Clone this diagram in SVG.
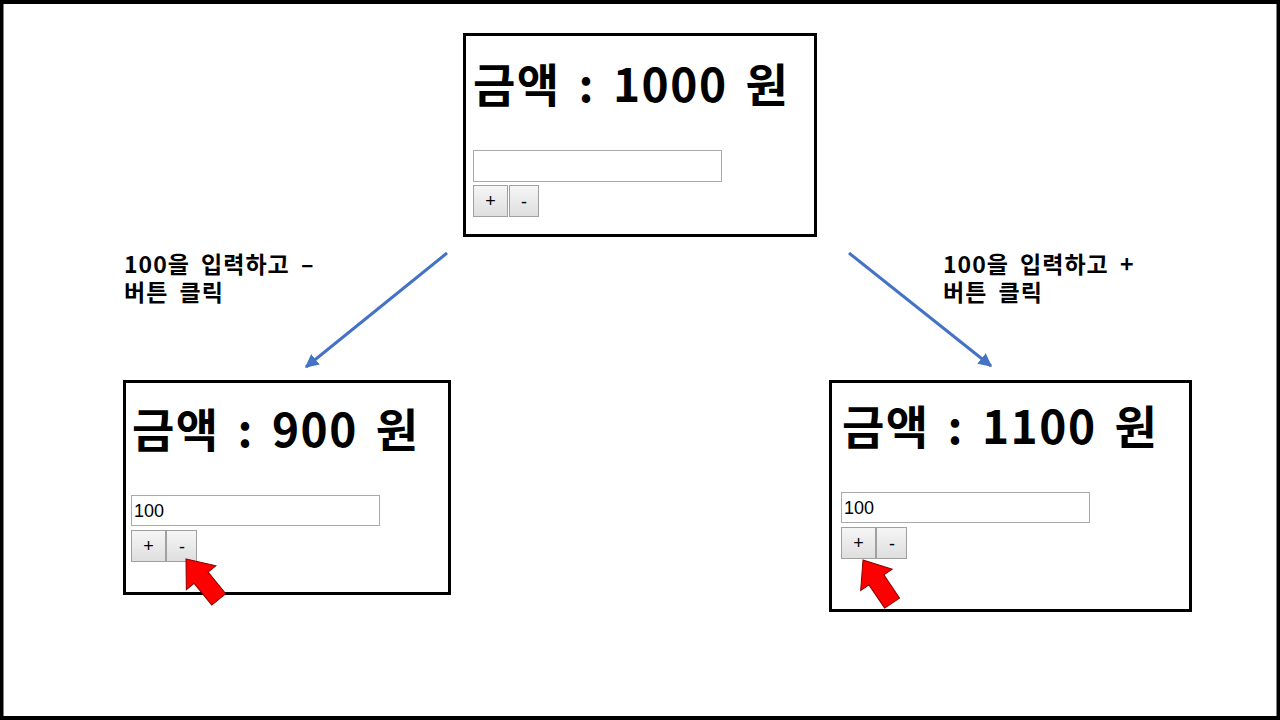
<svg xmlns="http://www.w3.org/2000/svg" width="1280" height="720" viewBox="0 0 1280 720">
<style>
.frame{fill:none;stroke:#000;stroke-width:3}
.title{font-family:"Noto Sans CJK KR","Noto Sans",sans-serif;font-weight:700;font-size:46px;fill:#000;letter-spacing:1.5px;word-spacing:6px}
.label{font-family:"Noto Sans CJK KR","Noto Sans",sans-serif;font-weight:700;font-size:23px;fill:#000;letter-spacing:1px;word-spacing:5px}
.input{fill:#fff;stroke:#a9a9a9;stroke-width:1}
.itext{font-family:"Liberation Sans",Arial,sans-serif;font-size:18px;fill:#000}
.btn{fill:url(#bg);stroke:#a0a0a0;stroke-width:1}
.btext{font-family:"Liberation Sans",Arial,sans-serif;font-size:18px;fill:#000;text-anchor:middle}
.conn{stroke:#4472C4;stroke-width:3;fill:none}
.cursor{fill:#FF0000;stroke:#8B0000;stroke-width:1;stroke-linejoin:miter}
</style>
<defs>
<linearGradient id="bg" x1="0" y1="0" x2="0" y2="1">
<stop offset="0" stop-color="#f6f6f6"/>
<stop offset="1" stop-color="#dedede"/>
</linearGradient>
<marker id="ah" viewBox="0 0 10 10" refX="9" refY="5" markerWidth="4.5" markerHeight="4.5" orient="auto" markerUnits="strokeWidth">
<path d="M0,0 L10,5 L0,10 z" fill="#4472C4"/>
</marker>
<path id="cur" d="M0,0 L19,24 L9,24 L9,52 L-9,52 L-9,24 L-19,24 z"/>
</defs>
<rect x="0" y="0" width="1280" height="720" fill="#fff"/>
<rect x="1.5" y="2" width="1277" height="716" fill="none" stroke="#000" stroke-width="4"/>

<g id="node-top">
<rect class="frame" x="464.5" y="34.5" width="351" height="201" fill="#fff"/>
<text class="title" x="473" y="102">금액 : 1000 원</text>
<rect class="input" x="473.5" y="150.5" width="248" height="31"/>
<rect class="btn" x="473.5" y="185.5" width="34" height="31"/>
<text class="btext" x="490.5" y="207">+</text>
<rect class="btn" x="509.5" y="185.5" width="29" height="31"/>
<text class="btext" x="524" y="208">-</text>
</g>

<g id="node-left">
<rect class="frame" x="124.5" y="381.5" width="325" height="212" fill="#fff"/>
<text class="title" x="132" y="447">금액 : 900 원</text>
<rect class="input" x="131.5" y="495.5" width="248" height="30"/>
<text class="itext" x="134" y="517">100</text>
<rect class="btn" x="131.5" y="530.5" width="34" height="31"/>
<text class="btext" x="148.5" y="552">+</text>
<rect class="btn" x="166.5" y="530.5" width="30" height="31"/>
<text class="btext" x="182" y="553">-</text>
<use href="#cur" class="cursor" transform="translate(186,559) rotate(-39)"/>
</g>

<g id="node-right">
<rect class="frame" x="830.5" y="381.5" width="360" height="229" fill="#fff"/>
<text class="title" x="842" y="444">금액 : 1100 원</text>
<rect class="input" x="841.5" y="492.5" width="248" height="30"/>
<text class="itext" x="844" y="514">100</text>
<rect class="btn" x="841.5" y="527.5" width="34" height="31"/>
<text class="btext" x="858.5" y="549">+</text>
<rect class="btn" x="876.5" y="527.5" width="30" height="31"/>
<text class="btext" x="892" y="550">-</text>
<use href="#cur" class="cursor" transform="translate(863,560) rotate(-34)"/>
</g>

<g id="connectors">
<line class="conn" x1="447" y1="253" x2="306" y2="367" marker-end="url(#ah)"/>
<line class="conn" x1="849" y1="253" x2="991" y2="366" marker-end="url(#ah)"/>
</g>

<g id="labels">
<text class="label" x="124" y="273">100을 입력하고 –</text>
<text class="label" x="124" y="301">버튼 클릭</text>
<text class="label" x="943" y="273">100을 입력하고 +</text>
<text class="label" x="943" y="301">버튼 클릭</text>
</g>
</svg>
